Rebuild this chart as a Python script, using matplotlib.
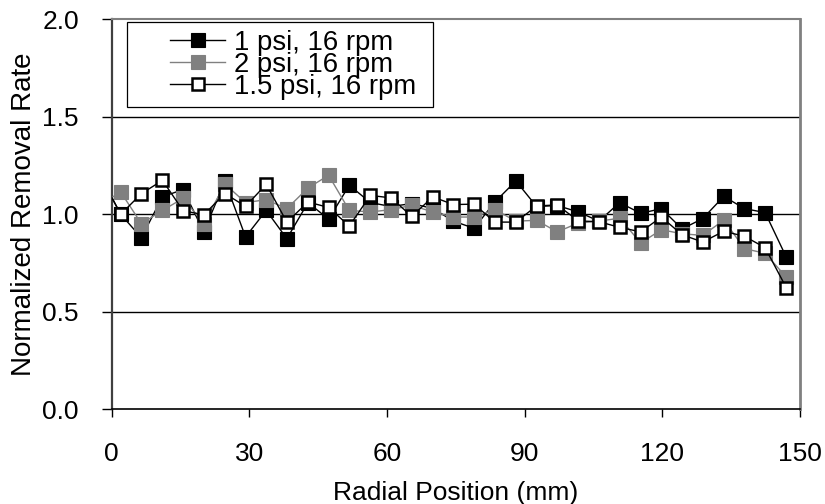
import matplotlib
matplotlib.use("Agg")
import matplotlib.pyplot as plt
from matplotlib.patches import Rectangle

plt.rcParams['font.family'] = ['Liberation Sans', 'DejaVu Sans']

# Radial positions (mm); first point lies just outside the axis (clipped)
radial_mm = [-2.5, 2.0, 6.5, 11.1, 15.6, 20.1, 24.7, 29.2, 33.7, 38.2, 42.8,
             47.3, 51.8, 56.4, 60.9, 65.4, 70.0, 74.5, 79.0, 83.5, 88.1,
             92.6, 97.1, 101.7, 106.2, 110.7, 115.3, 119.8, 124.3, 128.8,
             133.4, 137.9, 142.4, 147.0]

rate_1psi = [1.20, 1.00, 0.88, 1.09, 1.127, 0.91, 1.17, 0.884, 1.02, 0.875,
             1.06, 0.975, 1.149, 1.06, 1.04, 1.055, 1.03, 0.965, 0.928, 1.063,
             1.171, 1.04, 1.045, 1.012, 0.965, 1.06, 1.005, 1.029, 0.925,
             0.978, 1.092, 1.029, 1.009, 0.781]

rate_2psi = [1.05, 1.114, 0.952, 1.02, 1.082, 0.952, 1.155, 1.06, 1.075,
             1.029, 1.135, 1.20, 1.02, 1.012, 1.024, 1.046, 1.012, 0.986,
             0.986, 1.024, 0.965, 0.969, 0.91, 0.955, 0.965, 0.98, 0.853,
             0.921, 0.90, 0.892, 0.97, 0.824, 0.80, 0.678]

rate_15psi = [1.20, 1.00, 1.106, 1.174, 1.018, 0.998, 1.106, 1.041, 1.154,
              0.96, 1.063, 1.035, 0.94, 1.097, 1.084, 0.99, 1.089, 1.05,
              1.052, 0.96, 0.96, 1.043, 1.048, 0.966, 0.962, 0.933, 0.91,
              0.986, 0.895, 0.858, 0.913, 0.887, 0.829, 0.624]

labels = ['1 psi, 16 rpm', '2 psi, 16 rpm', '1.5 psi, 16 rpm']
x_ticks = [0, 30, 60, 90, 120, 150]
y_ticks = [0.0, 0.5, 1.0, 1.5, 2.0]

FS = 19

fig = plt.figure(figsize=(8.25, 5.04), dpi=100)
ax = fig.add_axes([0.1352, 0.1879, 0.8345, 0.7738])

gray = '#808080'
h1, = ax.plot(radial_mm, rate_1psi, color='black', lw=1.0, marker='s',
              ms=10, mfc='black', mec='black', mew=0.8, zorder=3, label=labels[0])
h2, = ax.plot(radial_mm, rate_2psi, color=gray, lw=1.0, marker='s',
              ms=10, mfc=gray, mec=gray, mew=0.8, zorder=4, label=labels[1])
h3, = ax.plot(radial_mm, rate_15psi, color='black', lw=1.0, marker='s',
              ms=9, mfc='white', mec='black', mew=1.8, zorder=5, label=labels[2])

ax.set_xlim(0, 150)
ax.set_ylim(0, 2.0)
ax.set_xticks(x_ticks)
ax.set_yticks(y_ticks)
ax.set_xticklabels([str(v) for v in x_ticks], fontsize=FS)
ax.set_yticklabels([f'{v:.1f}' for v in y_ticks], fontsize=FS)
for v in [0.5, 1.0, 1.5]:
    ax.axhline(v, color='black', lw=1.0, zorder=1)

ax.tick_params(axis='x', direction='out', length=5.5, width=1.0, pad=18, colors='black')
ax.tick_params(axis='y', direction='out', length=7, width=1.0, pad=16.5, colors='black')

ax.spines['left'].set_color('#404040')
ax.spines['left'].set_linewidth(1.6)
ax.spines['bottom'].set_color('black')
ax.spines['bottom'].set_linewidth(1.2)
ax.spines['top'].set_color(gray)
ax.spines['top'].set_linewidth(1.5)
ax.spines['right'].set_color(gray)
ax.spines['right'].set_linewidth(2.0)

ax.set_xlabel('Radial Position (mm)', fontsize=FS, labelpad=11)
ax.set_ylabel('Normalized Removal Rate', fontsize=20, labelpad=4)

# Legend frame (manual) and legend entries
ax.add_patch(Rectangle((0.0225, 0.775), 0.4445, 0.218, transform=ax.transAxes,
                       fill=True, facecolor='white', edgecolor='black', lw=0.9, zorder=6))
leg = ax.legend(handles=[h1, h2, h3], loc='upper left', bbox_to_anchor=(0.085, 0.973),
                frameon=False, fontsize=19.8, handlelength=2.0, handletextpad=0.33,
                labelspacing=-0.15, borderpad=0, borderaxespad=0, numpoints=1)
leg.set_zorder(7)

fig.savefig('out.png', dpi=100)
